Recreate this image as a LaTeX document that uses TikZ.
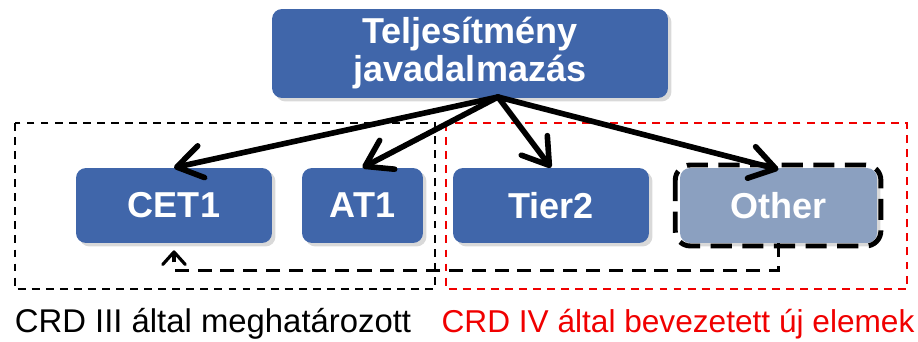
\documentclass[tikz,border=0pt]{standalone}
\usepackage{fontspec}
\setmainfont{Liberation Sans}
\usetikzlibrary{arrows.meta}
\usetikzlibrary{shadows}
\definecolor{boxblue}{RGB}{64,102,170}
\definecolor{boxgrey}{RGB}{139,160,192}
\definecolor{crdred}{RGB}{240,0,0}
\tikzset{>={Straight Barb[length=5mm,width=6.5mm,round]}}

\begin{document}
\begin{tikzpicture}[x=0.02cm, y=-0.02cm,
    box/.style={fill=boxblue, rounded corners=0.2cm, text=white, align=center,
        font=\fontsize{20.5}{21.6}\selectfont\bfseries, inner sep=0pt,
        drop shadow={opacity=0.3, shadow xshift=0.07cm, shadow yshift=-0.07cm}},
    lowbox/.style={box, minimum height=1.5cm},
    group/.style={line width=1.1pt, dash pattern=on 4.5pt off 3.5pt},
    link/.style={->, line width=3.2pt, line cap=round},
    back/.style={line width=1.8pt, dash pattern=on 8pt off 5pt,
        -{Straight Barb[length=2.5mm,width=4.5mm,round]}}]
    \useasboundingbox (0, 0) rectangle (918, 341);
    % groups
    \draw[group](15, 123)rectangle(435, 289);
    \draw[group, crdred](446, 123)rectangle(907, 289);
    % boxes
    \node[box, minimum width=7.92cm, minimum height=1.78cm] (top) at (470, 53.5) {Teljesítmény\\javadalmazás};
    \node[lowbox, minimum width=3.92cm] (cet) at (174, 205.5) {CET1};
    \node[lowbox, minimum width=2.42cm] (at) at (362.5, 205.5) {AT1};
    \node[lowbox, minimum width=3.92cm] (tier) at (551, 205.5) {Tier2};
    \node[lowbox, fill=boxgrey, minimum width=3.94cm] (other) at (778.5, 205.5) {Other};
    \draw[line width=2.8pt, dash pattern=on 12pt off 6pt, rounded corners=0.3cm]
        ([xshift=-2.5pt, yshift=1.5pt]other.north west) rectangle ([xshift=2pt, yshift=-1.5pt]other.south east);
    % arrows
    \coordinate (hub) at (498, 97);
    \draw[link] (hub) -- (cet.north);
    \draw[link] (hub) -- (at.north);
    \draw[link] (hub) -- (tier.north);
    \draw[link] (hub) -- ([yshift=-1pt]other.north);
    \draw[back] (other.south) -- ++(0, 27) -| ([yshift=-4pt]cet.south);
    % labels
    \node[font=\fontsize{18.7}{20}\selectfont] (oldlbl) at (213, 324) {CRD III által meghatározott};
    \node[font=\fontsize{18}{20}\selectfont, text=crdred] (newlbl) at (678, 324) {CRD IV által bevezetett új elemek};
\end{tikzpicture}
\end{document}
